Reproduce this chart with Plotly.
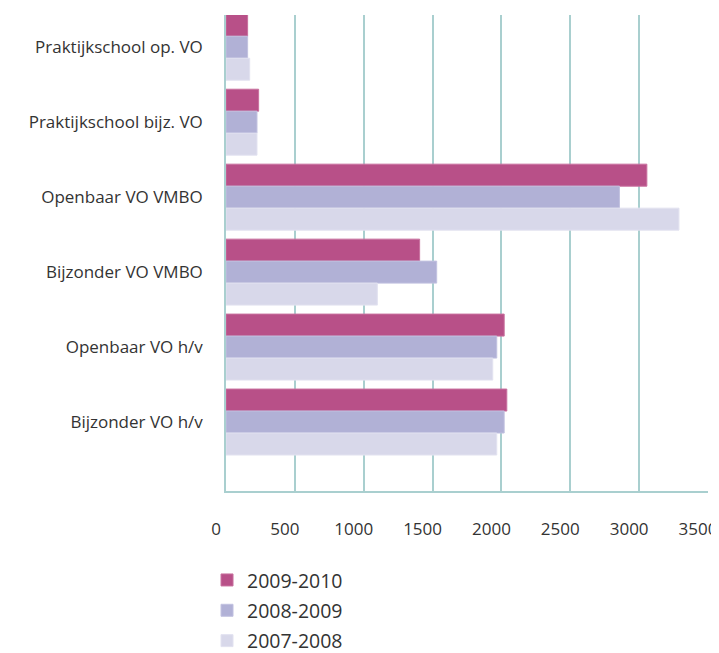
import plotly.graph_objects as go

# Categorieen (van boven naar beneden)
categorieen = [
    "Praktijkschool op. VO",
    "Praktijkschool bijz. VO",
    "Openbaar VO VMBO",
    "Bijzonder VO VMBO",
    "Openbaar VO h/v",
    "Bijzonder VO h/v",
]

# Waarden per schooljaar
jaar_2009_2010 = [157, 237, 3056, 1406, 2020, 2039]
jaar_2008_2009 = [157, 225, 2857, 1530, 1966, 2020]
jaar_2007_2008 = [172, 225, 3289, 1099, 1937, 1966]

reeksen = ["2009-2010", "2008-2009", "2007-2008"]
waarden = [jaar_2009_2010, jaar_2008_2009, jaar_2007_2008]
kleuren = ["#B85088", "#B1B1D6", "#D8D8EA"]
randkleuren = ["#C8709E", "#C2C2E0", "#E2E2F0"]

x_ticks = [0, 500, 1000, 1500, 2000, 2500, 3000, 3500]

lijn = "#A9CFCF"
tekst = "#333333"

fig = go.Figure()

# Een balk per reeks
for naam, vals, kleur, rand in zip(reeksen, waarden, kleuren, randkleuren):
    fig.add_trace(go.Bar(
        y=categorieen,
        x=vals,
        name=naam,
        orientation="h",
        legendgroup=naam,
        marker=dict(color=kleur, line=dict(color=rand, width=1)),
    ))

# De pagina heeft 8px marge rond de figuur, daar houden we rekening mee
fig.update_layout(
    width=719,
    height=653,
    barmode="group",
    bargap=0.12,
    bargroupgap=0,
    plot_bgcolor="white",
    paper_bgcolor="white",
    font=dict(family="Open Sans", color=tekst, size=17),
    margin=dict(l=218, r=19, t=7, b=170, autoexpand=False),
    legend=dict(
        xref="container", yref="container",
        x=0.2768, xanchor="left",
        y=0.1535, yanchor="top",
        font=dict(size=19.5, color=tekst),
        traceorder="grouped",
        tracegroupgap=2,
        bgcolor="rgba(0,0,0,0)",
    ),
)

fig.update_xaxes(
    range=[0, 3500],
    tickvals=x_ticks,
    showgrid=True,
    gridcolor=lijn,
    gridwidth=1.5,
    showline=True,
    linecolor=lijn,
    linewidth=1.5,
    zeroline=False,
    ticks="",
    ticklabelstandoff=22,
    ticklabelshift=-10,
    tickfont=dict(size=17, color=tekst),
    automargin=False,
    fixedrange=True,
)

fig.update_yaxes(
    type="category",
    categoryorder="array",
    categoryarray=categorieen,
    range=[5.92, -0.43],
    showgrid=False,
    showline=True,
    linecolor=lijn,
    linewidth=1.5,
    ticks="",
    ticklabelstandoff=18,
    tickfont=dict(size=17, color=tekst),
    automargin=False,
    fixedrange=True,
)

fig.write_html("out.html")
